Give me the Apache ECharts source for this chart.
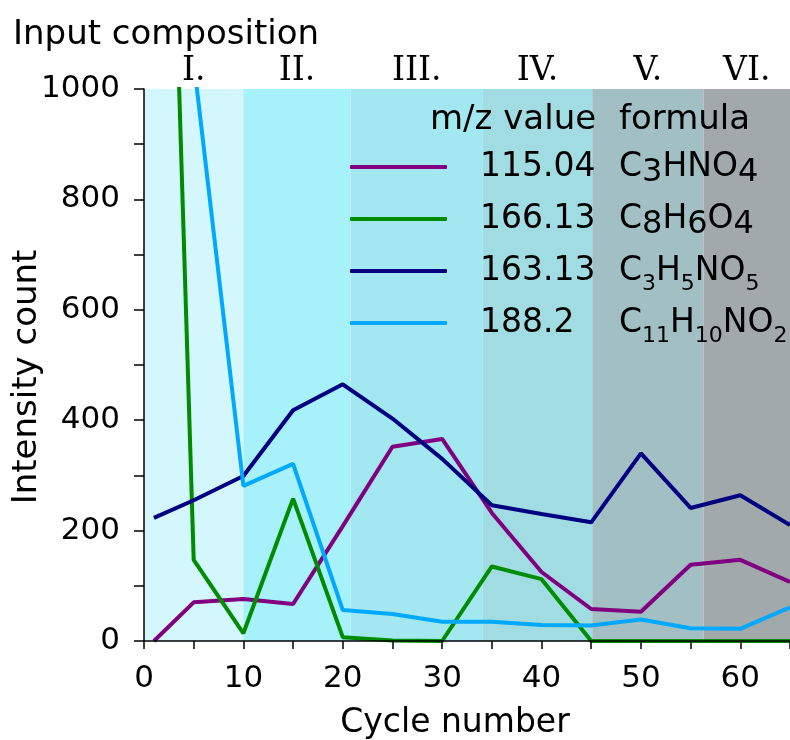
<!DOCTYPE html>
<html>
<head>
<meta charset="utf-8">
<script src="https://cdn.jsdelivr.net/npm/echarts@6/dist/echarts.min.js"></script>
<style>
  html, body { margin: 0; padding: 0; background: #fff; }
  #chart { width: 790px; height: 740px; }
</style>
</head>
<body>
<div id="chart"></div>
<script>
// cycle numbers sampled
var cycles = [1, 5, 10, 15, 20, 25, 30, 35, 40, 45, 50, 55, 60, 65]

// intensity counts per m/z value
var mz115 = [0, 70, 76, 67, 208, 352, 366, 232, 125, 58, 53, 138, 147, 107]
var mz166 = [2480, 147, 14, 258, 7, 1, 0, 135, 112, 0, 0, 0, 0, 0]
var mz163 = [223, 255, 299, 418, 465, 403, 330, 246, 230, 215, 340, 241, 264, 210]
var mz188 = [2000, 1050, 281, 321, 56, 49, 35, 35, 29, 28, 39, 23, 22, 61]

var masses = ['115.04', '166.13', '163.13', '188.2']
var formulas = ['C3HNO4', 'C8H6O4', 'C3H5NO5', 'C11H10NO2']
var subKind = ['d', 'd', 's', 's']
var lineColors = ['#800080', '#008c00', '#000080', '#00a8ff']

// input composition phases (cycle boundaries)
var phaseNames = ['I.', 'II.', 'III.', 'IV.', 'V.', 'VI.']
var phaseEdges = [0, 10, 20.8, 34.1, 45.1, 56.3, 65]
var phaseColors = ['#d3f7fc', '#a7f1fb', '#a3e8f0', '#a2dce3', '#a2c0c3', '#a2a9aa']

var FONT = 'DejaVu Sans'

function formulaRich (f, kind) {
  // digits become subscript tokens
  return f.replace(/[A-Z][a-z]*|\d+/g, function (m) {
    return /\d/.test(m) ? '{' + kind + '|' + m + '}' : '{f|' + m + '}'
  })
}

var seriesData = [mz115, mz166, mz163, mz188]

var series = seriesData.map(function (vals, i) {
  var s = {
    name: masses[i],
    type: 'line',
    symbol: 'none',
    clip: true,
    data: cycles.map(function (c, j) { return [c, vals[j]] }),
    lineStyle: { color: lineColors[i], width: 4 },
    itemStyle: { color: lineColors[i] },
    z: 3,
  }
  if (i === 0) {
    s.markArea = {
      silent: true,
      z: 1,
      label: {
        position: 'top',
        distance: 1,
        fontFamily: 'DejaVu Serif',
        fontSize: 33,
        color: '#000',
      },
      data: phaseNames.map(function (n, k) {
        return [
          { name: n, xAxis: phaseEdges[k], itemStyle: { color: phaseColors[k] } },
          { xAxis: phaseEdges[k + 1] },
        ]
      }),
    }
  }
  return s
})

var chart = echarts.init(document.getElementById('chart'))

chart.setOption({
  animation: false,
  textStyle: { fontFamily: FONT },
  grid: { left: 144, right: 0, top: 89, bottom: 99, containLabel: false, outerBoundsMode: 'none' },
  xAxis: {
    type: 'value',
    min: 0,
    max: 65,
    interval: 10,
    offset: 4,
    z: 5,
    name: 'Cycle number',
    nameLocation: 'middle',
    nameGap: 62,
    nameMoveOverlap: false,
    nameTextStyle: { fontSize: 33, color: '#000', fontFamily: FONT, padding: [0, 24, 0, 0] },
    axisLine: { show: true, lineStyle: { color: '#000', width: 1.5 } },
    axisTick: { show: true, length: 8, lineStyle: { color: '#000', width: 1.5 } },
    minorTick: { show: true, splitNumber: 2, length: 8, lineStyle: { color: '#000', width: 1.5 } },
    axisLabel: { fontSize: 31, color: '#000', margin: 18, fontFamily: FONT, showMaxLabel: false },
    splitLine: { show: false },
  },
  yAxis: {
    type: 'value',
    min: 0,
    max: 1000,
    interval: 200,
    z: 5,
    name: 'Intensity count',
    nameLocation: 'middle',
    nameGap: 100,
    nameMoveOverlap: false,
    nameTextStyle: { fontSize: 34, color: '#000', fontFamily: FONT, padding: [0, 24, 0, 0] },
    axisLine: { show: true, lineStyle: { color: '#000', width: 1.5 } },
    axisTick: { show: true, length: 10, lineStyle: { color: '#000', width: 1.5 } },
    minorTick: { show: true, splitNumber: 2, length: 10, lineStyle: { color: '#000', width: 1.5 } },
    axisLabel: {
      fontSize: 31,
      color: '#000',
      margin: 24,
      fontFamily: FONT,
      formatter: function (v) { return String(v) },
    },
    splitLine: { show: false },
  },
  legend: {
    orient: 'vertical',
    left: 350,
    top: 143,
    padding: 0,
    icon: 'roundRect',
    itemWidth: 97,
    itemHeight: 4,
    itemGap: 4,
    selectedMode: false,
    data: masses,
    formatter: function (name) {
      var i = masses.indexOf(name)
      return '{g| }{n|' + name + '}' + formulaRich(formulas[i], subKind[i])
    },
    textStyle: {
      color: '#000',
      fontFamily: FONT,
      fontSize: 33,
      rich: {
        // every row ends up 48px tall
        g: { width: 28, fontSize: 33, lineHeight: 48, fontFamily: FONT },
        n: { width: 139, fontSize: 33, lineHeight: 48, color: '#000', fontFamily: FONT },
        f: { fontSize: 33, lineHeight: 48, color: '#000', fontFamily: FONT },
        d: { fontSize: 32, lineHeight: 48, color: '#000', fontFamily: FONT, padding: [14, 0, 2, 0] },
        s: { fontSize: 22, lineHeight: 48, color: '#000', fontFamily: FONT, padding: [26, 0, 0, 0] },
      },
    },
  },
  graphic: [
    {
      type: 'text',
      x: 13,
      y: 35,
      style: { text: 'Input composition', fontSize: 34, fontFamily: FONT, fill: '#000', verticalAlign: 'middle' },
    },
    {
      type: 'text',
      x: 430,
      y: 120,
      z: 10,
      style: { text: 'm/z value', fontSize: 34, fontFamily: FONT, fill: '#000', verticalAlign: 'middle' },
    },
    {
      type: 'text',
      x: 619,
      y: 120,
      z: 10,
      style: { text: 'formula', fontSize: 34, fontFamily: FONT, fill: '#000', verticalAlign: 'middle' },
    },
  ],
  series: series,
})
</script>
</body>
</html>
